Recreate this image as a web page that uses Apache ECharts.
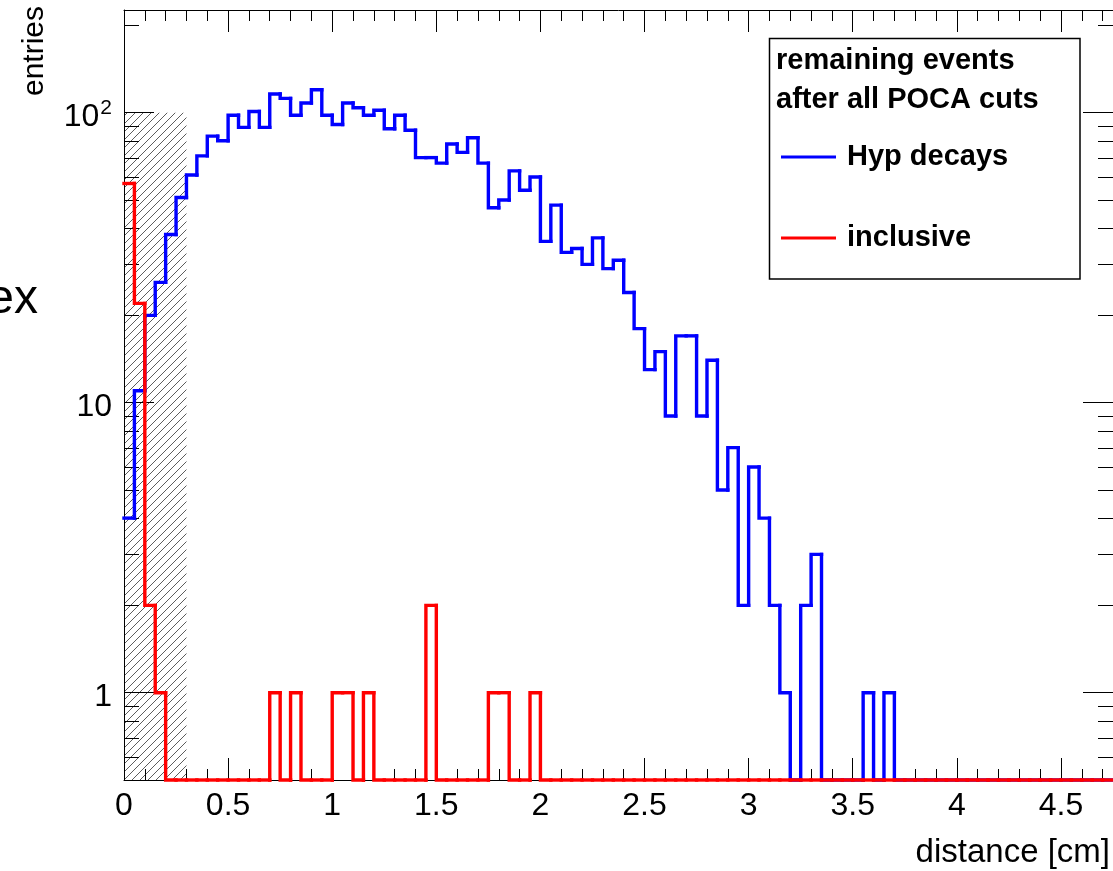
<!DOCTYPE html>
<html>
<head>
<meta charset="utf-8">
<script src="https://cdn.jsdelivr.net/npm/echarts@6/dist/echarts.min.js"></script>
<style>
html,body{margin:0;padding:0;background:#fff;}
#chart{width:1113px;height:871px;}
</style>
</head>
<body>
<div id="chart"></div>
<script>
// ---- data ----
const binLow = 0;
const binWidth = 0.05;
const xRange = [0, 4.75];
const yRange = [0.5, 226];
const hypDecays = [
  4, 11, 20, 26, 38, 51, 61, 71, 83, 80,
  98, 89, 101, 89, 116, 112, 98, 108, 120, 98,
  91, 108, 104, 98, 102, 88, 98, 87, 70, 70,
  67, 78, 73, 82, 67, 47, 50, 63, 54, 60,
  36, 48, 33, 34, 30, 37, 29, 31, 24, 18,
  13, 15, 9, 17, 17, 9, 14, 5, 7, 2,
  6, 4, 2, 1, 0, 2, 3, 0, 0, 0,
  0, 1, 0, 1, 0, 0, 0, 0, 0, 0,
  0, 0, 0, 0, 0, 0, 0, 0, 0, 0,
  0, 0, 0, 0, 0
];
const inclusive = [
  57, 22, 2, 1, 0, 0, 0, 0, 0, 0,
  0, 0, 0, 0, 1, 0, 1, 0, 0, 0,
  1, 1, 0, 1, 0, 0, 0, 0, 0, 2,
  0, 0, 0, 0, 0, 1, 1, 0, 0, 1,
  0, 0, 0, 0, 0, 0, 0, 0, 0, 0,
  0, 0, 0, 0, 0, 0, 0, 0, 0, 0,
  0, 0, 0, 0, 0, 0, 0, 0, 0, 0,
  0, 0, 0, 0, 0, 0, 0, 0, 0, 0,
  0, 0, 0, 0, 0, 0, 0, 0, 0, 0,
  0, 0, 0, 0, 0
];
const seriesNames = ['Hyp decays', 'inclusive'];
const legendHeader = 'remaining events\nafter all POCA cuts';
const cutX = [0, 0.3];
const cutYTop = 100;
const xTitle = 'distance [cm]';
const yTitle = 'entries';
const strayText = 'ex';

// ---- helpers ----
const FONT = '"Liberation Sans", Arial, Helvetica, sans-serif';

function histItems(vals) {
  return vals.map((v, i) => [binLow + i * binWidth, binLow + (i + 1) * binWidth, v, i === 0 ? v : vals[i - 1]]);
}
function clampY(v) { return v > 0 ? v : yRange[0]; }
function renderHist(params, api) {
  const x0 = api.value(0), x1 = api.value(1);
  const y = clampY(api.value(2)), yp = clampY(api.value(3));
  const a = api.coord([x0, yp]), b = api.coord([x0, y]), c = api.coord([x1, y]);
  return {
    type: 'polyline',
    shape: { points: [a, b, c] },
    style: { stroke: api.visual('color'), lineWidth: 3.4, fill: null, lineCap: 'square', lineJoin: 'miter' }
  };
}

// log minor tick positions (2..9 x 10^k) within the y range
const yMinorTicks = [];
for (let e = Math.floor(Math.log10(yRange[0])); e <= Math.ceil(Math.log10(yRange[1])); e++) {
  for (let m = 2; m <= 9; m++) {
    const v = m * Math.pow(10, e);
    if (v > yRange[0] && v < yRange[1]) yMinorTicks.push([xRange[0], v]);
  }
}
function renderMinorY(params, api) {
  const cs = params.coordSys;
  const y = Math.round(api.coord([xRange[0], api.value(1)])[1]) + 0.5;
  return {
    type: 'group',
    children: [
      { type: 'line', shape: { x1: cs.x, y1: y, x2: cs.x + 15, y2: y }, style: { stroke: '#000', lineWidth: 1 } },
      { type: 'line', shape: { x1: cs.x + cs.width, y1: y, x2: cs.x + cs.width - 15, y2: y }, style: { stroke: '#000', lineWidth: 1 } }
    ]
  };
}

// hatch pattern
const T = 8;
const pc = document.createElement('canvas');
pc.width = T; pc.height = T;
const pctx = pc.getContext('2d');
pctx.strokeStyle = '#333';
pctx.lineWidth = 0.8;
pctx.beginPath();
pctx.moveTo(0, T); pctx.lineTo(T, 0);
pctx.moveTo(-1, 1); pctx.lineTo(1, -1);
pctx.moveTo(T - 1, T + 1); pctx.lineTo(T + 1, T - 1);
pctx.stroke();

function renderHatch(params, api) {
  const p0 = api.coord([api.value(0), api.value(2)]);
  const p1 = api.coord([api.value(1), yRange[0]]);
  return {
    type: 'rect',
    shape: { x: p0[0], y: p0[1], width: p1[0] - p0[0], height: p1[1] - p0[1] },
    style: { fill: { image: pc, repeat: 'repeat' }, stroke: null }
  };
}

const yLabel = v => {
  const lg = Math.log10(v);
  const e = Math.round(lg);
  if (Math.abs(lg - e) > 1e-6) return '';
  if (e === 0) return '{b|1}';
  if (e === 1) return '{b|10}';
  return '{b|10}{s|' + e + '}';
};

const axisCommon = {
  axisLine: { show: true, onZero: false, lineStyle: { color: '#000', width: 1 } },
  splitLine: { show: false },
};

const chart = echarts.init(document.getElementById('chart'), null, { renderer: 'canvas' });
chart.setOption({
  backgroundColor: '#fff',
  animation: false,
  textStyle: { fontFamily: FONT },
  grid: { left: 124, right: -3, top: 10, bottom: 91, containLabel: false },
  title: {
    text: legendHeader,
    left: 776, top: 41.5, padding: 0, z: 6,
    textStyle: { fontSize: 29, fontWeight: 'bold', color: '#000', lineHeight: 39, fontFamily: FONT }
  },
  legend: {
    data: seriesNames,
    orient: 'vertical',
    left: 781, top: 142, padding: 0,
    icon: 'rect', itemWidth: 55, itemHeight: 3, itemGap: 51,
    selectedMode: false, z: 6,
    textStyle: { fontSize: 29, fontWeight: 'bold', color: '#000', lineHeight: 30, padding: [0, 0, 0, 6], fontFamily: FONT }
  },
  xAxis: [
    Object.assign({}, axisCommon, {
      type: 'value', position: 'bottom', min: xRange[0], max: xRange[1], interval: 0.5,
      axisTick: { show: true, inside: true, length: 22, lineStyle: { color: '#000', width: 1 } },
      minorTick: { show: true, splitNumber: 5, length: 11, lineStyle: { color: '#000', width: 1 } },
      axisLabel: { show: true, fontSize: 32, color: '#000', margin: 10, showMaxLabel: false, fontFamily: FONT,
        formatter: v => String(v) }
    }),
    Object.assign({}, axisCommon, {
      type: 'value', position: 'top', min: xRange[0], max: xRange[1], interval: 0.5,
      axisTick: { show: true, inside: true, length: 22, lineStyle: { color: '#000', width: 1 } },
      minorTick: { show: true, splitNumber: 5, length: 11, lineStyle: { color: '#000', width: 1 } },
      axisLabel: { show: false }
    })
  ],
  yAxis: [
    Object.assign({}, axisCommon, {
      type: 'log', logBase: 10, position: 'left', min: yRange[0], max: yRange[1],
      axisTick: { show: true, inside: true, length: 30, lineStyle: { color: '#000', width: 1 } },
      axisLabel: {
        show: true, color: '#000', margin: 12, showMinLabel: false, showMaxLabel: false,
        formatter: yLabel,
        rich: {
          b: { fontSize: 32, color: '#000', fontFamily: FONT, padding: [8, 0, 0, 0] },
          s: { fontSize: 21, color: '#000', fontFamily: FONT, verticalAlign: 'top', padding: [5, 0, 0, 1] }
        }
      }
    }),
    Object.assign({}, axisCommon, {
      type: 'log', logBase: 10, position: 'right', min: yRange[0], max: yRange[1],
      axisTick: { show: true, inside: true, length: 30, lineStyle: { color: '#000', width: 1 } },
      axisLabel: { show: false }
    })
  ],
  series: [
    {
      name: 'cut', type: 'custom', renderItem: renderHatch, z: -1, silent: true,
      encode: { x: [0, 1], y: 2 },
      data: [[cutX[0], cutX[1], cutYTop]]
    },
    {
      name: seriesNames[0], type: 'custom', renderItem: renderHist, z: 3,
      itemStyle: { color: '#0000ff' },
      encode: { x: [0, 1], y: 2 },
      data: histItems(hypDecays)
    },
    {
      name: seriesNames[1], type: 'custom', renderItem: renderHist, z: 4,
      itemStyle: { color: '#ff0000' },
      encode: { x: [0, 1], y: 2 },
      data: histItems(inclusive)
    },
    {
      name: 'minorTicks', type: 'custom', renderItem: renderMinorY, z: 1, silent: true,
      encode: { x: 0, y: 1 },
      data: yMinorTicks
    }
  ],
  graphic: [
    { type: 'rect', z: 5, shape: { x: 769.5, y: 38.5, width: 310.5, height: 240.5 },
      style: { fill: 'none', stroke: '#000', lineWidth: 1.5 } },
    { type: 'text', x: 1110, y: 853, z: 5,
      style: { text: xTitle, font: '33px ' + FONT, fill: '#000', align: 'right', verticalAlign: 'middle' } },
    { type: 'text', x: 35, y: 6, rotation: Math.PI / 2, z: 5,
      style: { text: yTitle, font: '30px ' + FONT, fill: '#000', align: 'right', verticalAlign: 'middle' } },
    { type: 'text', x: 38, y: 300, z: 5,
      style: { text: strayText, font: '48px ' + FONT, fill: '#000', align: 'right', verticalAlign: 'middle' } }
  ]
});
</script>
</body>
</html>
